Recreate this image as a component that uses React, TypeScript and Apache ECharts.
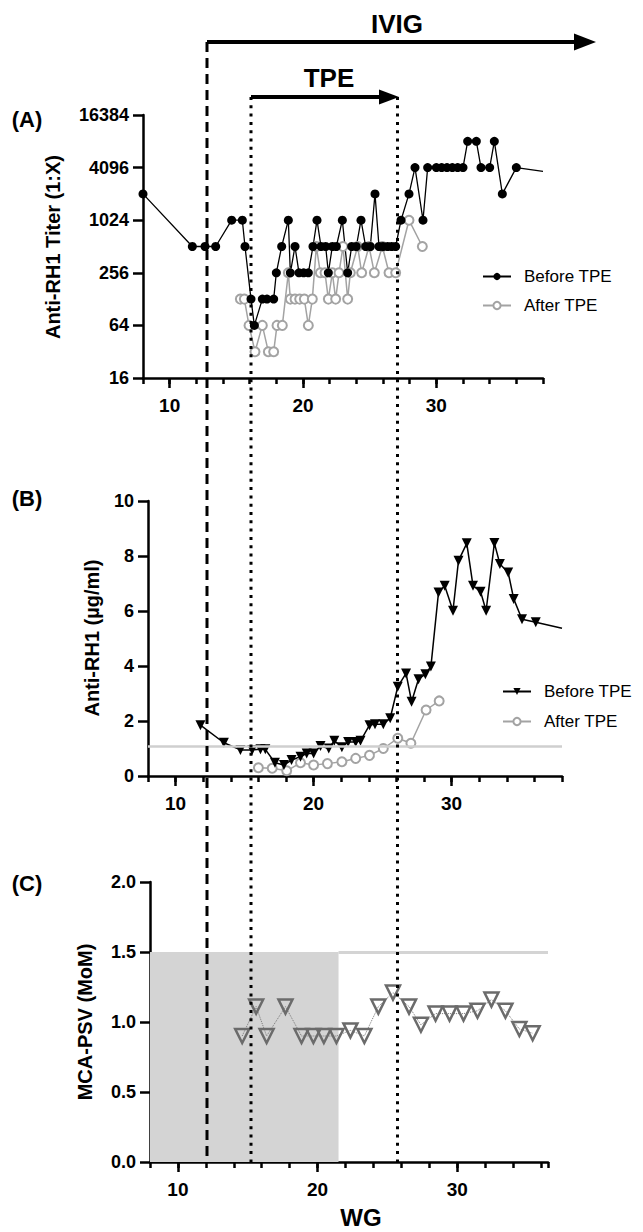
import React, { useEffect, useRef } from "react";
import * as echarts from "echarts";

// ---------- Panel A: Anti-RH1 titer (1:X) ----------
const wgBeforeA = [8, 11.7, 12.65, 13.45, 14.65, 15.45, 15.65, 16.1, 16.35, 16.95, 17.3, 17.8, 18.0, 18.4, 18.9, 19.05, 19.4, 19.7, 20.05, 20.4, 20.75, 21.05, 21.35, 21.7, 21.9, 22.2, 22.5, 22.95, 23.35, 23.65, 24.0, 24.35, 24.7, 25.05, 25.4, 25.7, 26.0, 26.35, 26.65, 26.95, 27.35, 27.95, 28.4, 29.0, 29.35, 30.0, 30.4, 30.8, 31.2, 31.6, 32.0, 32.35, 33.0, 33.35, 34.0, 34.35, 34.95, 36.0, 38];
const titerBeforeA = [2048, 512, 512, 512, 1024, 1024, 512, 128, 64, 128, 128, 128, 256, 512, 1024, 256, 512, 256, 256, 256, 512, 1024, 512, 512, 256, 512, 512, 1024, 256, 512, 512, 1024, 512, 512, 2048, 512, 512, 512, 512, 512, 1024, 2048, 4096, 1024, 4096, 4096, 4096, 4096, 4096, 4096, 4096, 8192, 8192, 4096, 4096, 8192, 2048, 4096, 3700];
const wgAfterA = [15.3, 15.6, 15.95, 16.4, 16.95, 17.4, 17.8, 18.05, 18.45, 18.9, 19.05, 19.4, 19.75, 20.1, 20.4, 20.7, 21.0, 21.3, 21.65, 21.9, 22.2, 22.45, 22.7, 23.0, 23.35, 23.55, 24.1, 24.4, 24.95, 25.35, 25.95, 26.45, 26.95, 27.95, 28.95];
const titerAfterA = [128, 128, 64, 32, 64, 32, 32, 64, 64, 256, 128, 128, 128, 128, 64, 128, 512, 256, 256, 128, 256, 128, 256, 512, 128, 256, 512, 256, 512, 256, 512, 256, 256, 1024, 512];
const titerTicks = [16, 64, 256, 1024, 4096, 16384];

// ---------- Panel B: Anti-RH1 (µg/ml) ----------
const wgBeforeB = [11.8, 13.5, 14.7, 15.55, 16.15, 16.5, 17.2, 17.85, 18.4, 19.05, 19.5, 20.0, 20.5, 21.1, 21.5, 22.05, 22.5, 23.05, 23.4, 24.05, 24.45, 25.05, 25.55, 26.1, 26.7, 27.1, 27.6, 28.1, 28.5, 29.05, 29.5, 30.1, 30.5, 31.1, 31.55, 32.1, 32.5, 33.1, 33.5, 34.1, 34.5, 35.1, 36.1, 38];
const concBeforeB = [1.85, 1.21, 0.95, 0.95, 0.97, 0.97, 0.48, 0.4, 0.58, 0.7, 0.82, 0.82, 1.09, 1.0, 1.28, 1.05, 1.24, 1.24, 1.28, 1.85, 1.88, 1.88, 2.1, 3.25, 3.73, 2.7, 3.52, 3.7, 3.98, 6.67, 6.92, 6.01, 7.83, 8.46, 6.92, 6.7, 6.01, 8.47, 7.71, 7.4, 6.44, 5.7, 5.59, 5.37];
const wgAfterB = [16.0, 17.0, 18.05, 19.05, 20.0, 21.0, 22.05, 23.05, 24.05, 25.05, 26.1, 27.05, 28.15, 29.1];
const concAfterB = [0.3, 0.28, 0.19, 0.48, 0.4, 0.45, 0.52, 0.64, 0.75, 1.0, 1.37, 1.19, 2.4, 2.73];
const thresholdB = 1.07;

// ---------- Panel C: MCA-PSV (MoM) ----------
const wgC = [14.6, 15.6, 16.35, 17.7, 18.85, 19.7, 20.45, 21.35, 22.35, 23.35, 24.35, 25.4, 26.55, 27.4, 28.45, 29.45, 30.45, 31.45, 32.45, 33.45, 34.45, 35.4];
const momC = [0.9, 1.11, 0.9, 1.11, 0.9, 0.9, 0.9, 0.9, 0.94, 0.9, 1.11, 1.21, 1.11, 0.98, 1.06, 1.06, 1.06, 1.08, 1.16, 1.08, 0.95, 0.92];
const shadeEndC = 21.5;
const thresholdC = 1.5;

const FONT = "'Liberation Sans', Arial, Helvetica, sans-serif";
const GREY = "#a3a3a3";

function xAxesFor(gridIndex: number, max: number) {
  const lineStyle = { color: "#000", width: 2.5 };
  return [
    {
      type: "value", gridIndex, min: 8, max, interval: 2, position: "bottom",
      axisLine: { show: true, onZero: false, lineStyle },
      axisTick: { show: true, length: 6, lineStyle },
      axisLabel: {
        show: true, margin: 18, fontSize: 19, fontWeight: "bold", color: "#000", fontFamily: FONT,
        formatter: (v: number) => (v % 10 === 0 ? String(v) : ""),
      },
      splitLine: { show: false },
    },
    {
      type: "value", gridIndex, min: 8, max, position: "bottom",
      axisLine: { show: false },
      axisTick: { show: true, length: 10, customValues: [10, 20, 30], lineStyle },
      axisLabel: { show: false },
      splitLine: { show: false },
    },
  ];
}

function yAxisFor(gridIndex: number, min: number, max: number, interval: number, fmt: (v: number) => string) {
  const lineStyle = { color: "#000", width: 2.5 };
  return {
    type: "value", gridIndex, min, max, interval,
    axisLine: { show: true, onZero: false, lineStyle },
    axisTick: { show: true, length: 10, lineStyle },
    axisLabel: { show: true, margin: 14, fontSize: 18, fontWeight: "bold", color: "#000", fontFamily: FONT, formatter: fmt },
    splitLine: { show: false },
  };
}

function txt(text: string, x: number, y: number, size: number, extra: any = {}) {
  return {
    type: "text", x, y, z: 100, ...extra,
    style: { text, fill: "#000", font: `bold ${size}px ${FONT}`, align: "center", verticalAlign: "middle", textAlign: "center", textVerticalAlign: "middle" },
  };
}

export default function App() {
  const ref = useRef<HTMLDivElement>(null);
  useEffect(() => {
    if (!ref.current) return;
    const chart = echarts.init(ref.current, undefined, { renderer: "svg" });
    const log2 = (t: number) => Math.log2(t);

    const beforeA = wgBeforeA.map((w, i) => {
      const item: any = { value: [w, log2(titerBeforeA[i])] };
      if (i === wgBeforeA.length - 1) item.symbol = "none";
      return item;
    });
    const afterA = wgAfterA.map((w, i) => [w, log2(titerAfterA[i])]);
    const beforeB = wgBeforeB.map((w, i) => {
      const item: any = { value: [w, concBeforeB[i]] };
      if (i === wgBeforeB.length - 1) item.symbol = "none";
      return item;
    });
    const afterB = wgAfterB.map((w, i) => [w, concAfterB[i]]);
    const seriesC = wgC.map((w, i) => [w, momC[i]]);

    const legendBase = {
      orient: "vertical", itemWidth: 28, itemHeight: 9, itemGap: 12, selectedMode: false,
      textStyle: { fontSize: 17, lineHeight: 17, color: "#000", fontFamily: FONT, padding: [0, 0, 0, 8] },
    };

    const option: any = {
      animation: false,
      backgroundColor: "#fff",
      textStyle: { fontFamily: FONT },
      grid: [
        { left: 143, top: 115, width: 400, height: 263 },
        { left: 148, top: 501, width: 414, height: 275 },
        { left: 150, top: 882, width: 398, height: 280 },
      ],
      xAxis: [...xAxesFor(0, 38), ...xAxesFor(1, 38), ...xAxesFor(2, 36.5)],
      yAxis: [
        yAxisFor(0, log2(titerTicks[0]), log2(titerTicks[titerTicks.length - 1]), 2, (v: number) => String(Math.round(Math.pow(2, v)))),
        yAxisFor(1, 0, 10, 2, (v: number) => String(v)),
        yAxisFor(2, 0, 2, 0.5, (v: number) => v.toFixed(1)),
      ],
      legend: [
        { ...legendBase, left: 477, top: 263, data: ["Before TPE", "After TPE"] },
        { ...legendBase, left: 497, top: 678, itemGap: 13, data: ["B Before TPE", "B After TPE"], formatter: (n: string) => n.replace(/^B /, "") },
      ],
      series: [
        {
          name: "After TPE", type: "line", xAxisIndex: 0, yAxisIndex: 0, data: afterA,
          symbol: "emptyCircle", symbolSize: 9, color: GREY,
          itemStyle: { color: GREY, borderWidth: 2.5 }, lineStyle: { color: GREY, width: 1.5 },
        },
        {
          name: "Before TPE", type: "line", xAxisIndex: 0, yAxisIndex: 0, data: beforeA,
          symbol: "circle", symbolSize: 9, color: "#000",
          itemStyle: { color: "#000" }, lineStyle: { color: "#000", width: 1.3 },
        },
        {
          name: "B After TPE", type: "line", xAxisIndex: 2, yAxisIndex: 1, data: afterB,
          symbol: "emptyCircle", symbolSize: 9, color: GREY,
          itemStyle: { color: GREY, borderWidth: 2.2 }, lineStyle: { color: GREY, width: 1.5 },
          markLine: {
            silent: true, symbol: "none", label: { show: false },
            lineStyle: { color: "#cfcfcf", width: 2.5, type: "solid" },
            data: [{ yAxis: thresholdB }],
          },
        },
        {
          name: "B Before TPE", type: "line", xAxisIndex: 2, yAxisIndex: 1, data: beforeB,
          symbol: "triangle", symbolRotate: 180, symbolSize: 10, color: "#000",
          itemStyle: { color: "#000" }, lineStyle: { color: "#000", width: 1.5 },
        },
        {
          name: "MCA-PSV", type: "line", xAxisIndex: 4, yAxisIndex: 2, data: seriesC,
          symbol: "triangle", symbolRotate: 180, symbolSize: 14,
          itemStyle: { color: "rgba(0,0,0,0)", borderColor: "#6b6b6b", borderWidth: 2.5 },
          lineStyle: { color: "#777", width: 1, type: "dotted" },
          markArea: {
            silent: true, itemStyle: { color: "#d4d4d4" },
            data: [[{ coord: [8, 0] }, { coord: [shadeEndC, thresholdC] }]],
          },
          markLine: {
            silent: true, symbol: "none", label: { show: false },
            lineStyle: { color: "#d4d4d4", width: 3, type: "solid" },
            data: [[{ coord: [shadeEndC, thresholdC] }, { coord: [36.5, thresholdC] }]],
          },
        },
      ],
      graphic: [
        // IVIG arrow
        { type: "line", z: 100, shape: { x1: 207, y1: 42, x2: 578, y2: 42 }, style: { stroke: "#000", lineWidth: 4 } },
        { type: "polygon", z: 100, shape: { points: [[574, 33.5], [596, 42], [574, 50.5]] }, style: { fill: "#000" } },
        txt("IVIG", 397, 24, 26),
        // TPE arrow
        { type: "line", z: 100, shape: { x1: 251, y1: 97, x2: 382, y2: 97 }, style: { stroke: "#000", lineWidth: 4 } },
        { type: "polygon", z: 100, shape: { points: [[379, 89.5], [399, 97], [379, 104.5]] }, style: { fill: "#000" } },
        txt("TPE", 329, 78, 26),
        // vertical reference lines
        { type: "line", z: 100, shape: { x1: 207, y1: 42, x2: 207, y2: 1162 }, style: { stroke: "#000", lineWidth: 3, lineDash: [10, 6] } },
        { type: "line", z: 100, shape: { x1: 251, y1: 97, x2: 251, y2: 1162 }, style: { stroke: "#000", lineWidth: 3, lineDash: [3, 5.3] } },
        { type: "line", z: 100, shape: { x1: 397.5, y1: 97, x2: 397.5, y2: 1162 }, style: { stroke: "#000", lineWidth: 3, lineDash: [3, 5.3] } },
        // panel letters
        txt("(A)", 27, 119, 22),
        txt("(B)", 27, 498, 22),
        txt("(C)", 27, 883, 22),
        // axis titles
        txt("Anti-RH1 Titer (1:X)", 53, 247, 20, { rotation: Math.PI / 2 }),
        txt("Anti-RH1 (µg/ml)", 92, 638, 20, { rotation: Math.PI / 2 }),
        txt("MCA-PSV (MoM)", 85, 1022, 20, { rotation: Math.PI / 2 }),
        txt("WG", 361, 1217, 24),
      ],
    };
    chart.setOption(option);
    return () => chart.dispose();
  }, []);
  return <div ref={ref} style={{ position: "fixed", left: 0, top: 0, width: "643px", height: "1232px" }} />;
}
